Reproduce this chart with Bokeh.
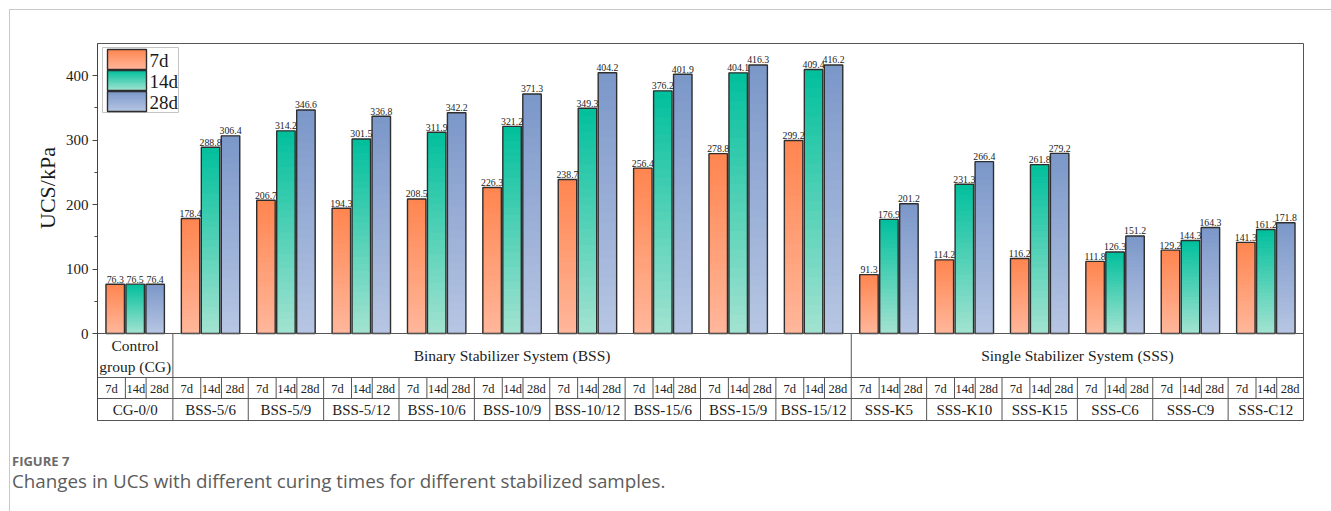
from bokeh.plotting import figure
from bokeh.models import ColumnDataSource, FixedTicker, Div
from bokeh.layouts import column, row
from bokeh.core.properties import value
from bokeh.embed import file_html
from bokeh.resources import INLINE

# ---- data ---------------------------------------------------------------
samples = ["CG-0/0", "BSS-5/6", "BSS-5/9", "BSS-5/12", "BSS-10/6", "BSS-10/9",
           "BSS-10/12", "BSS-15/6", "BSS-15/9", "BSS-15/12", "SSS-K5", "SSS-K10",
           "SSS-K15", "SSS-C6", "SSS-C9", "SSS-C12"]
curing = ["7d", "14d", "28d"]
ucs_7d = [76.3, 178.4, 206.7, 194.3, 208.5, 226.3, 238.7, 256.4, 278.8, 299.2,
          91.3, 114.2, 116.2, 111.8, 129.2, 141.3]
ucs_14d = [76.5, 288.8, 314.2, 301.5, 311.9, 321.2, 349.3, 376.2, 404.1, 409.4,
           176.9, 231.3, 261.8, 126.3, 144.3, 161.2]
ucs_28d = [76.4, 306.4, 346.6, 336.8, 342.2, 371.3, 404.2, 401.9, 416.3, 416.2,
           201.2, 266.4, 279.2, 151.2, 164.3, 171.8]
systems = ["Control\ngroup (CG)", "Binary Stabilizer System (BSS)",
           "Single Stabilizer System (SSS)"]
system_sizes = [1, 9, 6]
y_ticks = [0, 100, 200, 300, 400]

series = [ucs_7d, ucs_14d, ucs_28d]
# (top colour, bottom colour) of each curing-time gradient
grad = [("#ff8550", "#ffb79b"), ("#00bf9c", "#a3e3d1"), ("#7b97c9", "#b7c6e3")]

# ---- geometry (screen pixels of the plotting frame) --------------------
LABEL_W = 50                      # width of the y-title strip at the left
FL, FR, FT, FB = 97, 1303, 43, 420
ZERO_PX, PX_PER_UNIT = 333, 0.645
n = len(samples)
gx = (FR - FL) / n


def xd(px):
    return (px - FL) / gx


def yd(py):
    return (ZERO_PX - py) / PX_PER_UNIT


y_top, y_bot = yd(FT), yd(FB)
row1, row2 = yd(377), yd(398)

SERIF = "Liberation Serif"
INK = "#2e2e2e"

p = figure(width=1321 - LABEL_W, height=421, x_range=(0, n), y_range=(y_bot, y_top),
           x_axis_location=None, output_backend="svg", toolbar_location=None,
           min_border_left=FL - 10 - LABEL_W, min_border_right=1331 - FR,
           min_border_top=FT - 10, min_border_bottom=11)
p.xgrid.visible = False
p.ygrid.visible = False
p.outline_line_color = "#555555"
p.outline_line_width = 1
p.background_fill_color = "white"
p.border_fill_color = "white"


def hex2rgb(h):
    return tuple(int(h[i:i + 2], 16) for i in (1, 3, 5))


def lerp(c_top, c_bot, t):
    a, b = hex2rgb(c_top), hex2rgb(c_bot)
    return "#%02x%02x%02x" % tuple(round(b[i] + (a[i] - b[i]) * t) for i in range(3))


NSLICE = 28
offsets = [-0.265, 0.0, 0.265]
bw = 0.245

# ---- bars with vertical gradient ---------------------------------------
sl = dict(left=[], right=[], top=[], bottom=[], color=[])
ol = dict(left=[], right=[], top=[], bottom=[])
lab = dict(x=[], y=[], text=[])
for s, vals in enumerate(series):
    c_top, c_bot = grad[s]
    for i, v in enumerate(vals):
        cx = i + 0.5 + offsets[s]
        for k in range(NSLICE, 0, -1):
            sl["left"].append(cx - bw / 2)
            sl["right"].append(cx + bw / 2)
            sl["bottom"].append(0)
            sl["top"].append(v * k / NSLICE)
            sl["color"].append(lerp(c_top, c_bot, (k - 0.5) / NSLICE))
        ol["left"].append(cx - bw / 2)
        ol["right"].append(cx + bw / 2)
        ol["bottom"].append(0)
        ol["top"].append(v)
        lab["x"].append(cx)
        lab["y"].append(v + 2.5)
        lab["text"].append(f"{v:.1f}")

p.quad(source=ColumnDataSource(sl), left="left", right="right", top="top",
       bottom="bottom", fill_color="color", line_color=None)
p.quad(source=ColumnDataSource(ol), left="left", right="right", top="top",
       bottom="bottom", fill_alpha=0, line_color=INK, line_width=1.4)
p.text(source=ColumnDataSource(lab), x="x", y="y", text="text",
       text_font=value(SERIF), text_font_size="9.8px", text_color="#222222",
       text_align="center", text_baseline="bottom")

# ---- category table under the bars -------------------------------------
seg = dict(x0=[], y0=[], x1=[], y1=[])


def line(x0, y0, x1, y1):
    seg["x0"].append(x0); seg["y0"].append(y0)
    seg["x1"].append(x1); seg["y1"].append(y1)


line(0, 0, n, 0)
line(0, row1, n, row1)
line(0, row2, n, row2)
edges = [0]
for sz in system_sizes:
    edges.append(edges[-1] + sz)
for e in edges[1:-1]:
    line(e, 0, e, row1)
for i in range(1, n):
    line(i, row1, i, y_bot)
cell_div = [-0.13, 0.145]
for i in range(n):
    for d in cell_div:
        line(i + 0.5 + d, row1, i + 0.5 + d, row2)
p.segment(source=ColumnDataSource(seg), x0="x0", y0="y0", x1="x1", y1="y1",
          line_color="#555555", line_width=1)

t1 = dict(x=[], y=[], text=[])
for k, name in enumerate(systems):
    cx = (edges[k] + edges[k + 1]) / 2
    parts = name.split("\n")
    if len(parts) == 1:
        t1["x"].append(cx); t1["y"].append(yd(355)); t1["text"].append(name)
    else:
        for j, part in enumerate(parts):
            t1["x"].append(cx); t1["y"].append(yd(345 + 21 * j)); t1["text"].append(part)
p.text(source=ColumnDataSource(t1), x="x", y="y", text="text",
       text_font=value(SERIF), text_font_size="15.5px", text_color="#222222",
       text_align="center", text_baseline="middle")

t2 = dict(x=[], y=[], text=[])
for i in range(n):
    bounds = [i, i + 0.5 + cell_div[0], i + 0.5 + cell_div[1], i + 1]
    for s, c in enumerate(curing):
        t2["x"].append((bounds[s] + bounds[s + 1]) / 2)
        t2["y"].append(yd(388))
        t2["text"].append(c)
p.text(source=ColumnDataSource(t2), x="x", y="y", text="text",
       text_font=value(SERIF), text_font_size="12.5px", text_color="#222222",
       text_align="center", text_baseline="middle")

t3 = dict(x=[i + 0.5 for i in range(n)], y=[yd(409.5)] * n, text=samples)
p.text(source=ColumnDataSource(t3), x="x", y="y", text="text",
       text_font=value(SERIF), text_font_size="15px", text_color="#222222",
       text_align="center", text_baseline="middle")

# ---- legend with gradient swatches -------------------------------------
p.quad(left=xd(102), right=xd(178), top=yd(47), bottom=yd(112),
       fill_color="white", line_color="#c4c4c4", line_width=1)
rows = [(49, 69), (70, 90), (91, 111)]
lg = dict(left=[], right=[], top=[], bottom=[], color=[])
for s, (ya, yb) in enumerate(rows):
    c_top, c_bot = grad[s]
    for k in range(NSLICE, 0, -1):
        lg["left"].append(xd(107)); lg["right"].append(xd(146))
        lg["bottom"].append(yd(yb))
        lg["top"].append(yd(yb) + (yd(ya) - yd(yb)) * k / NSLICE)
        lg["color"].append(lerp(c_top, c_bot, (k - 0.5) / NSLICE))
p.quad(source=ColumnDataSource(lg), left="left", right="right", top="top",
       bottom="bottom", fill_color="color", line_color=None)
p.quad(left=[xd(107)] * 3, right=[xd(146)] * 3, top=[yd(a) for a, b in rows],
       bottom=[yd(b) for a, b in rows], fill_alpha=0, line_color=INK, line_width=1.4)
p.text(x=[xd(149)] * 3, y=[yd((a + b) / 2 + 1) for a, b in rows], text=curing,
       text_font=value(SERIF), text_font_size="19px", text_color="#1a1a1a",
       text_align="left", text_baseline="middle")

# ---- y axis --------------------------------------------------------------
ax = p.yaxis[0]
ax.ticker = FixedTicker(ticks=y_ticks, minor_ticks=[50, 150, 250, 350])
ax.major_label_text_font = SERIF
ax.major_label_text_font_size = "15px"
ax.major_label_text_color = "#1a1a1a"
ax.major_label_standoff = 4
ax.axis_line_color = "#444444"
ax.major_tick_line_color = "#444444"
ax.minor_tick_line_color = "#444444"
ax.major_tick_in = 0
ax.major_tick_out = 5
ax.minor_tick_in = 0
ax.minor_tick_out = 3

# y title, centred on the bar region only (not on the table below it)
mid_y = (FT + ZERO_PX) / 2 - 10
ytitle = Div(width=LABEL_W, height=421, margin=0, text=(
    f"<div style=\"position:absolute;left:38px;top:{mid_y}px;"
    "transform:translate(-50%,-50%) rotate(-90deg);white-space:nowrap;"
    f"font-family:'{SERIF}',serif;font-size:22px;color:#1a1a1a;\">UCS/kPa</div>"))

caption = Div(width=1321, height=80, margin=0, text=(
    "<div style=\"font-family:'Open Sans',sans-serif;padding:21px 0 0 2px;\">"
    "<div style='font-size:13px;font-weight:bold;line-height:18px;color:#6a6a6a;'>FIGURE 7</div>"
    "<div style='font-size:18.8px;line-height:22px;color:#5c5c5c;'>"
    "Changes in UCS with different curing times for different stabilized samples.</div>"
    "</div>"))

page = column(row(ytitle, p, spacing=0), caption, margin=(9, 0, 0, 9), spacing=0,
              styles={"border-top": "1px solid #c8c8c8",
                      "border-left": "1px solid #c8c8c8"})

open("out.html", "w").write(file_html(page, INLINE))
